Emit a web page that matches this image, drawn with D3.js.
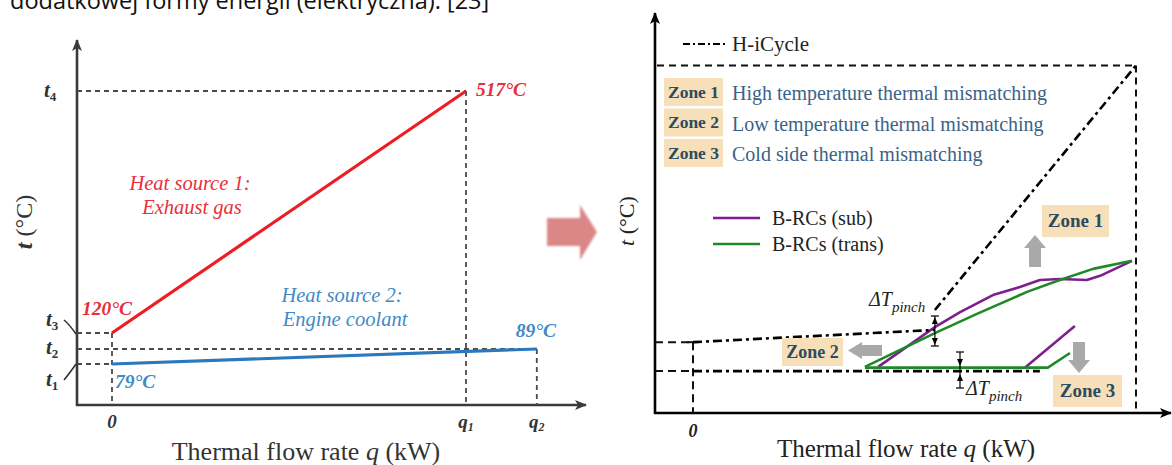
<!DOCTYPE html>
<html>
<head>
<meta charset="utf-8">
<script src="https://cdn.jsdelivr.net/npm/d3@7"></script>
<style>
  html, body { margin: 0; padding: 0; background: #fff; }
  svg { display: block; }
  text { font-family: "Liberation Serif", "Times New Roman", serif; }
</style>
</head>
<body>
<svg id="fig" width="1172" height="465"></svg>
<script>
// ---------- data: left panel (heat sources) ----------
const sourceNames = ["Heat source 1:", "Heat source 2:"];
const sourceSub = ["Exhaust gas", "Engine coolant"];
const tempTicks = [79, 89, 120, 517];          // t1 .. t4 in °C
const tempTickNames = ["1", "2", "3", "4"];
const flowTicks = [0, 1, 1.2];                 // 0, q1, q2 (relative)
const flowTickNames = ["0", "1", "2"];
const exhaustQ = [0, 1];
const exhaustT = [120, 517];
const coolantQ = [0, 1.2];
const coolantT = [79, 89];

// ---------- data: right panel (cycle matching, schematic units) ----------
const hotQ = [0.546, 1.0];
const hotT = [29.5, 99.6];
const coolQ = [0, 0.546];
const coolT = [20.3, 23.8];
const coldQ = [0, 0.783];
const coldT = [12.0, 12.0];
const subUpperQ = [0.418, 0.546, 0.603, 0.677, 0.738, 0.783, 0.828, 0.889, 0.919, 0.991];
const subUpperT = [13.2, 24.6, 28.9, 33.8, 36.1, 38.1, 38.4, 38.1, 39.3, 43.6];
const transUpperQ = [0.388, 0.546, 0.641, 0.754, 0.828, 0.903, 0.991];
const transUpperT = [13.2, 22.9, 28.4, 34.7, 38.1, 41.3, 43.6];
const transLowerQ = [0.388, 0.801, 0.851];
const transLowerT = [13.0, 13.0, 17.2];
const subLowerQ = [0.749, 0.862];
const subLowerT = [13.0, 24.9];
const zoneNames = ["Zone 1", "Zone 2", "Zone 3"];
const zoneTexts = ["High temperature thermal mismatching",
                   "Low temperature thermal mismatching",
                   "Cold side thermal mismatching"];
const legendNames = ["H-iCycle", "B-RCs (sub)", "B-RCs (trans)"];

const svg = d3.select("#fig");
const zip = (a, b) => a.map((v, i) => [v, b[i]]);

// markers
const defs = svg.append("defs");
function arrowMarker(id, color) {
  defs.append("marker").attr("id", id).attr("viewBox", "0 0 12 10")
    .attr("refX", 11).attr("refY", 5).attr("markerWidth", 12).attr("markerHeight", 10)
    .attr("markerUnits", "userSpaceOnUse").attr("orient", "auto")
    .append("path").attr("d", "M0,0 L12,5 L0,10 L3,5 Z").attr("fill", color);
}
arrowMarker("arrL", "#3a3a3a");
arrowMarker("arrR", "#000");
defs.append("filter").attr("id", "soft").append("feGaussianBlur").attr("stdDeviation", 0.9);

// ---------- caption line running off the top edge ----------
svg.append("text").attr("x", 10).attr("y", 9)
  .style("font-family", "'Open Sans', 'Liberation Sans', sans-serif")
  .style("font-size", "23.5px").attr("fill", "#111")
  .text("dodatkowej formy energii (elektryczna). [23]");

// =================== LEFT PANEL ===================
const L = svg.append("g");
const xL = d3.scaleLinear().domain([0, 1]).range([112, 466]);
const yL = d3.scaleLinear().domain(tempTicks).range([364, 349, 333, 91]);
const axLX = 77, axLY = 405;

// axes
L.append("line").attr("x1", axLX).attr("y1", axLY + 1).attr("x2", axLX).attr("y2", 40)
  .attr("stroke", "#3a3a3a").attr("stroke-width", 2.6).attr("marker-end", "url(#arrL)");
L.append("line").attr("x1", axLX - 1).attr("y1", axLY).attr("x2", 586).attr("y2", axLY)
  .attr("stroke", "#3a3a3a").attr("stroke-width", 2.6).attr("marker-end", "url(#arrL)");

// dashed guides
const dashL = (x1, y1, x2, y2) => L.append("line").attr("x1", x1).attr("y1", y1)
  .attr("x2", x2).attr("y2", y2).attr("stroke", "#4a4a4a").attr("stroke-width", 1.8)
  .attr("stroke-dasharray", "5,4");
dashL(axLX, yL(517), xL(1), yL(517));
dashL(axLX, yL(120), xL(0), yL(120));
dashL(axLX, yL(89), xL(1.2), yL(89));
dashL(axLX, yL(79), xL(0), yL(79));
dashL(xL(0), yL(120), xL(0), axLY);
dashL(xL(1), yL(517), xL(1), axLY);
dashL(xL(1.2), yL(89), xL(1.2), axLY);

// source lines
const lineL = d3.line().x(d => xL(d[0])).y(d => yL(d[1]));
L.append("path").datum(zip(exhaustQ, exhaustT)).attr("d", lineL)
  .attr("fill", "none").attr("stroke", "#ee1d25").attr("stroke-width", 3.2);
L.append("path").datum(zip(coolantQ, coolantT)).attr("d", lineL)
  .attr("fill", "none").attr("stroke", "#2a78bd").attr("stroke-width", 3.2);

// t-tick labels
const tPos = [[46, 386], [46, 354], [46, 326], [44, 97]];
tempTickNames.forEach((n, i) => {
  const t = L.append("text").attr("x", tPos[i][0]).attr("y", tPos[i][1])
    .style("font-size", "21px").style("font-weight", "bold").style("font-style", "italic")
    .attr("fill", "#333");
  t.append("tspan").text("t");
  t.append("tspan").attr("dy", 4).style("font-size", "13px").style("font-style", "normal").text(n);
});
// leader strokes for t3 and t1
L.append("path").attr("d", `M64,320 Q69,324 ${axLX - 1},${yL(120) + 1}`)
  .attr("fill", "none").attr("stroke", "#333").attr("stroke-width", 1.6);
L.append("path").attr("d", `M64,380 Q69,374 ${axLX - 1},${yL(79)}`)
  .attr("fill", "none").attr("stroke", "#333").attr("stroke-width", 1.6);

// q-tick labels
flowTicks.forEach((q, i) => {
  const t = L.append("text").attr("x", xL(q)).attr("y", 428).attr("text-anchor", "middle")
    .style("font-size", "19px").style("font-weight", "bold").style("font-style", "italic")
    .attr("fill", "#333");
  if (i === 0) { t.text(flowTickNames[i]); }
  else {
    t.append("tspan").text("q");
    t.append("tspan").attr("dy", 3).style("font-size", "12px").text(flowTickNames[i]);
  }
});

// axis titles
L.append("text").attr("x", 306).attr("y", 460).attr("text-anchor", "middle")
  .style("font-size", "26px").attr("fill", "#333")
  .html('Thermal flow rate <tspan font-style="italic">q</tspan> (kW)');
L.append("text").attr("transform", "translate(32,222) rotate(-90)").attr("text-anchor", "middle")
  .style("font-size", "24px").attr("fill", "#333")
  .html('<tspan font-style="italic" font-weight="bold">t</tspan> (°C)');

// source annotations
const red = "#e6303b", blue = "#3f8ac6";
const srcLabel = (x, y, txt, c) => L.append("text").attr("x", x).attr("y", y)
  .attr("text-anchor", "middle").style("font-size", "20.5px").style("font-style", "italic")
  .attr("fill", c).text(txt);
srcLabel(190, 190, sourceNames[0], red);
srcLabel(192, 214, sourceSub[0], red);
srcLabel(342, 302, sourceNames[1], blue);
srcLabel(345, 326, sourceSub[1], blue);

const valLabel = (x, y, v, c) => L.append("text").attr("x", x).attr("y", y)
  .style("font-size", "19.5px").style("font-weight", "bold").style("font-style", "italic")
  .attr("fill", c).text(v + "°C");
valLabel(82, yL(exhaustT[0]) - 18, exhaustT[0], red);
valLabel(xL(exhaustQ[1]) + 10, yL(exhaustT[1]) + 5, exhaustT[1], red);
valLabel(xL(coolantQ[0]) + 3, yL(coolantT[0]) + 24, coolantT[0], blue);
valLabel(xL(coolantQ[1]) - 21, yL(coolantT[1]) - 12, coolantT[1], blue);

// ---------- pink transition arrow ----------
svg.append("path")
  .attr("d", "M547,218 L580,218 L580,205 L597,232 L580,260 L580,246 L547,246 Z")
  .attr("fill", "#db8787").attr("filter", "url(#soft)");

// =================== RIGHT PANEL ===================
const R = svg.append("g");
const xR = d3.scaleLinear().domain([0, 1]).range([693, 1136]);
const yR = d3.scaleLinear().domain([0, 100]).range([413, 64]);
const axRX = 655, axRY = 413;

R.append("line").attr("x1", axRX).attr("y1", axRY + 1).attr("x2", axRX).attr("y2", 13)
  .attr("stroke", "#000").attr("stroke-width", 2.6).attr("marker-end", "url(#arrR)");
R.append("line").attr("x1", axRX - 1).attr("y1", axRY).attr("x2", 1171).attr("y2", axRY)
  .attr("stroke", "#000").attr("stroke-width", 2.6).attr("marker-end", "url(#arrR)");

// dashed frame for the hot-source envelope
const dashR = (x1, y1, x2, y2, dash) => R.append("line").attr("x1", x1).attr("y1", y1)
  .attr("x2", x2).attr("y2", y2).attr("stroke", "#111").attr("stroke-width", 2)
  .attr("stroke-dasharray", dash || "7,5");
dashR(axRX + 2, yR(hotT[1]), xR(hotQ[1]), yR(hotT[1]));
dashR(xR(hotQ[1]), yR(hotT[1]), xR(hotQ[1]), axRY);
dashR(axRX, yR(coolT[0]), xR(0), yR(coolT[0]), "8,5");
dashR(axRX, yR(coldT[0]), xR(0), yR(coldT[0]), "8,5");
dashR(xR(0), yR(coolT[0]), xR(0), axRY, "8,5");
R.append("line").attr("x1", xR(0) - 6).attr("x2", xR(0) + 6)
  .attr("y1", yR(coolT[0])).attr("y2", yR(coolT[0])).attr("stroke", "#111").attr("stroke-width", 2);

const lineR = d3.line().x(d => xR(d[0])).y(d => yR(d[1]));
const dashDot = "9,4,3,4";

// B-RC curves
const purple = "#7e1f8e", green = "#1f8a25";
[[subUpperQ, subUpperT, purple], [subLowerQ, subLowerT, purple],
 [transUpperQ, transUpperT, green], [transLowerQ, transLowerT, green]].forEach(([q, t, c]) => {
  R.append("path").datum(zip(q, t)).attr("d", lineR).attr("fill", "none")
    .attr("stroke", c).attr("stroke-width", 2.6).attr("stroke-linejoin", "round");
});

// H-iCycle
[[hotQ, hotT], [coolQ, coolT], [coldQ, coldT]].forEach(([q, t]) => {
  R.append("path").datum(zip(q, t)).attr("d", lineR).attr("fill", "none")
    .attr("stroke", "#000").attr("stroke-width", 2.6).attr("stroke-dasharray", dashDot);
});

// pinch markers
function vArrow(x, y1, y2) {
  R.append("line").attr("x1", x).attr("x2", x).attr("y1", y1).attr("y2", y2)
    .attr("stroke", "#000").attr("stroke-width", 1.2);
  [y1, y2].forEach(y => {
    R.append("line").attr("x1", x - 4).attr("x2", x + 4).attr("y1", y).attr("y2", y)
      .attr("stroke", "#000").attr("stroke-width", 1.2);
  });
}
const pinchX = xR(hotQ[0]);
vArrow(pinchX, 316, 346);
R.append("path").attr("d", `M${pinchX - 3},324 L${pinchX},317 L${pinchX + 3},324 Z M${pinchX - 3},338 L${pinchX},345 L${pinchX + 3},338 Z`)
  .attr("fill", "#000");
vArrow(960, 352, 388);
R.append("path").attr("d", "M957,359 L960,366 L963,359 Z M957,381 L960,374 L963,381 Z").attr("fill", "#000");

const pinchLabel = (x, y) => {
  const t = R.append("text").attr("x", x).attr("y", y).style("font-size", "20px")
    .style("font-style", "italic").attr("fill", "#222");
  t.append("tspan").text("ΔT");
  t.append("tspan").attr("dy", 6).style("font-size", "15px").text("pinch");
};
pinchLabel(869, 306);
pinchLabel(966, 395);

// legend
R.append("line").attr("x1", 683).attr("x2", 727).attr("y1", 44).attr("y2", 44)
  .attr("stroke", "#000").attr("stroke-width", 2).attr("stroke-dasharray", "7,3,2,3");
R.append("text").attr("x", 732).attr("y", 51).style("font-size", "21px").attr("fill", "#222").text(legendNames[0]);
[[purple, 218, legendNames[1]], [green, 244, legendNames[2]]].forEach(([c, y, n]) => {
  R.append("line").attr("x1", 713).attr("x2", 760).attr("y1", y).attr("y2", y)
    .attr("stroke", c).attr("stroke-width", 2.4);
  R.append("text").attr("x", 772).attr("y", y + 7).style("font-size", "20px").attr("fill", "#222").text(n);
});

// zone legend table
const zoneFill = "#f7e0b9", zoneInk = "#2d4b5f";
function zoneTag(x, y, w, h, name, size) {
  R.append("rect").attr("x", x).attr("y", y).attr("width", w).attr("height", h).attr("fill", zoneFill);
  R.append("text").attr("x", x + w / 2).attr("y", y + h / 2 + size * 0.34).attr("text-anchor", "middle")
    .style("font-size", size + "px").style("font-weight", "bold").attr("fill", zoneInk).text(name);
}
zoneNames.forEach((n, i) => {
  const y = 78 + i * 30.5;
  zoneTag(664, y, 59, 28, n, 17.5);
  R.append("text").attr("x", 732).attr("y", y + 22).style("font-size", "20px")
    .attr("fill", "#3b6387").text(zoneTexts[i]);
});

// zone tags on the plot
zoneTag(1042, 205, 67, 32, zoneNames[0], 19);
zoneTag(782, 338, 61, 28, zoneNames[1], 18);
zoneTag(1053, 375, 69, 32, zoneNames[2], 19);

// grey direction arrows
const grey = "#a9a9a9";
R.append("path").attr("d", "M1029,267 L1029,248 L1024,248 L1035,235 L1046,248 L1041,248 L1041,267 Z").attr("fill", grey);
R.append("path").attr("d", "M882,345 L862,345 L862,342 L848,350.5 L862,359 L862,356 L882,356 Z").attr("fill", grey);
R.append("path").attr("d", "M1073,342 L1073,360 L1068,360 L1079,373 L1090,360 L1085,360 L1085,342 Z").attr("fill", grey);

// axis titles and origin
R.append("text").attr("x", xR(0)).attr("y", 437).attr("text-anchor", "middle")
  .style("font-size", "18px").style("font-weight", "bold").style("font-style", "italic")
  .attr("fill", "#222").text("0");
R.append("text").attr("x", 906).attr("y", 457).attr("text-anchor", "middle")
  .style("font-size", "25px").attr("fill", "#222")
  .html('Thermal flow rate <tspan font-style="italic">q</tspan> (kW)');
R.append("text").attr("transform", "translate(634,221) rotate(-90)").attr("text-anchor", "middle")
  .style("font-size", "22px").attr("fill", "#222")
  .html('<tspan font-style="italic">t</tspan> (°C)');
</script>
</body>
</html>
